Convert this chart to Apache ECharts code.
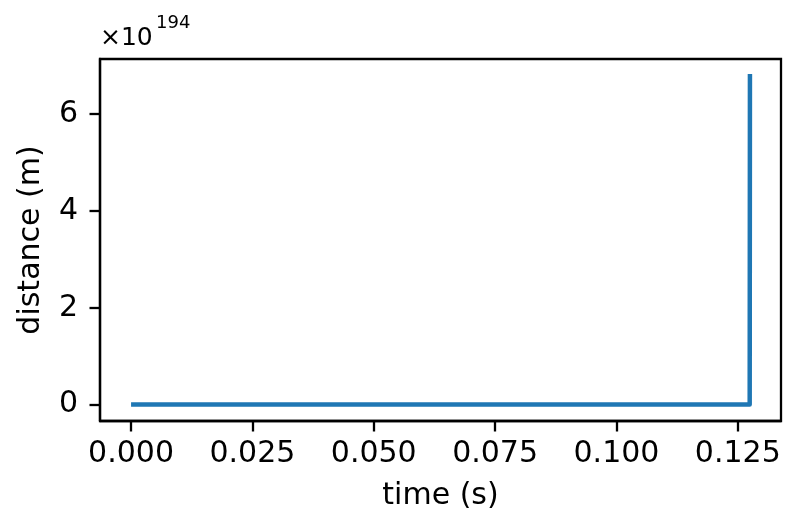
<!DOCTYPE html>
<html>
<head>
<meta charset="utf-8">
<script src="https://cdn.jsdelivr.net/npm/echarts@6/dist/echarts.min.js"></script>
<style>
html,body{margin:0;padding:0;background:#fff;}
#chart{width:800px;height:520px;}
</style>
</head>
<body>
<div id="chart"></div>
<script>
// data (distance in units of 10^EXPONENT metres)
const times = [0, 0.12745, 0.1275];
const distances = [0, 0, 6.83];
const EXPONENT = 194;
const xTicks = [0, 0.025, 0.05, 0.075, 0.1, 0.125];
const yTicks = [0, 2, 4, 6];
const xLabel = 'time (s)';
const yLabel = 'distance (m)';

const FONT = 'DejaVu Sans';
const FS = 30;

const chart = echarts.init(document.getElementById('chart'), null, {renderer: 'canvas'});
const data = times.map((t, i) => [t, distances[i]]);

chart.setOption({
  animation: false,
  backgroundColor: '#fff',
  grid: {left: 100, right: 19, top: 59, bottom: 99, show: true, borderColor: '#000', borderWidth: 2.3, backgroundColor: 'transparent'},
  xAxis: {
    type: 'value', min: -0.0064, max: 0.1339,
    name: xLabel, nameLocation: 'middle', nameGap: 60,
    nameTextStyle: {fontFamily: FONT, fontSize: FS, color: '#000'},
    axisLine: {show: true, onZero: false, lineStyle: {color: '#000', width: 2.3}},
    axisTick: {show: true, customValues: xTicks, length: 10.5, inside: false, lineStyle: {color: '#000', width: 2.3}},
    axisLabel: {customValues: xTicks, margin: 18.5, fontFamily: FONT, fontSize: FS, color: '#000', formatter: v => v.toFixed(3)},
    splitLine: {show: false}
  },
  yAxis: {
    type: 'value', min: -0.34, max: 7.14,
    name: yLabel, nameLocation: 'middle', nameGap: 54, nameRotate: 90,
    nameTextStyle: {fontFamily: FONT, fontSize: FS, color: '#000'},
    axisLine: {show: true, onZero: false, lineStyle: {color: '#000', width: 2.3}},
    axisTick: {show: true, customValues: yTicks, length: 10.5, lineStyle: {color: '#000', width: 2.3}},
    axisLabel: {customValues: yTicks, margin: 22, fontFamily: FONT, fontSize: FS, color: '#000', formatter: v => String(v)},
    splitLine: {show: false}
  },
  graphic: [
    {type: 'text', left: 100, top: 26, style: {text: '×10', fontSize: 25, fontFamily: FONT, fill: '#000'}},
    {type: 'text', left: 156, top: 14, style: {text: String(EXPONENT), fontSize: 18, fontFamily: FONT, fill: '#000'}}
  ],
  series: [{
    type: 'line', data: data, showSymbol: false, symbol: 'none',
    lineStyle: {color: '#1f77b4', width: 4.5, join: 'round', cap: 'butt'},
    clip: true
  }]
});
</script>
</body>
</html>
